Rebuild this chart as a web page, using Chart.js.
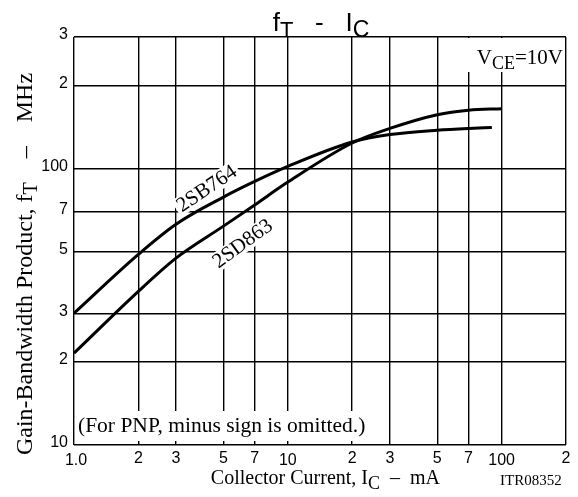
<!DOCTYPE html>
<html>
<head>
<meta charset="utf-8">
<script src="https://cdn.jsdelivr.net/npm/chart.js@4.4.0/dist/chart.umd.min.js"></script>
<style>
  html, body { margin: 0; padding: 0; background: #fff; }
  #wrap { width: 578px; height: 497px; }
</style>
</head>
<body>
<div id="wrap"><canvas id="c" width="578" height="497"></canvas></div>
<script>
// collector current (mA) and gain-bandwidth product (MHz)
const currentB = [1, 2, 3, 5, 7, 10, 20, 30, 50, 70, 90];
const ftB = [30, 49, 63, 79, 90, 102, 125, 133, 138, 140, 141];        // 2SB764
const currentD = [1, 2, 3, 5, 7, 10, 20, 30, 50, 70, 100];
const ftD = [21.5, 36, 47.5, 62, 74, 89.5, 124, 140, 157, 163, 165];   // 2SD863

const xTickValues = [1, 2, 3, 5, 7, 10, 20, 30, 50, 70, 100, 200];
const xTickLabels = ['1.0', '2', '3', '5', '7', '10', '2', '3', '5', '7', '100', '2'];
const yTickValues = [10, 20, 30, 50, 70, 100, 200, 300];
const yTickLabels = ['10', '2', '3', '5', '7', '100', '2', '3'];

const SANS = '"Liberation Sans", Arial, sans-serif';
const SERIF = '"Liberation Serif", "Times New Roman", serif';

function richWidth(ctx, parts) {
    let w = 0;
    parts.forEach(p => { ctx.font = p.font; w += ctx.measureText(p.text).width; });
    return w;
}

function drawRich(ctx, parts, x, y, align) {
    const w = richWidth(ctx, parts);
    let cx = align === 'center' ? x - w / 2 : align === 'right' ? x - w : x;
    ctx.textAlign = 'left';
    ctx.textBaseline = 'alphabetic';
    parts.forEach(p => {
        ctx.font = p.font;
        ctx.fillText(p.text, cx, y + (p.dy || 0));
        cx += ctx.measureText(p.text).width;
    });
    return w;
}

function whiteBox(ctx, x, y, w, h) {
    ctx.fillStyle = '#fff';
    ctx.fillRect(x, y, w, h);
    ctx.fillStyle = '#000';
}

// rotated label sitting on a curve, with a white patch that breaks the grid
function curveLabel(ctx, text, x, y, angle) {
    ctx.save();
    ctx.translate(x, y);
    ctx.rotate(angle * Math.PI / 180);
    ctx.font = '21px ' + SERIF;
    const w = ctx.measureText(text).width;
    whiteBox(ctx, -w / 2 - 3, -10, w + 6, 19);
    ctx.textAlign = 'center';
    ctx.textBaseline = 'middle';
    ctx.fillText(text, 0, 0);
    ctx.restore();
}

const textPlugin = {
    id: 'sheetText',
    beforeDatasetsDraw(chart) {
        const ctx = chart.ctx;
        const xs = chart.scales.x, ys = chart.scales.y;
        ctx.save();
        ctx.fillStyle = '#000';

        // tick labels
        ctx.font = '16px ' + SANS;
        ctx.textBaseline = 'middle';
        ctx.textAlign = 'center';
        xTickValues.forEach((v, i) => {
            const decade = [1, 10, 100].includes(v);
            const px = xs.getPixelForValue(v) + (i === 0 ? 2 : 0);
            ctx.fillText(xTickLabels[i], px, decade ? 461 : 459);
        });
        ctx.textAlign = 'right';
        yTickValues.forEach((v, i) => {
            ctx.fillText(yTickLabels[i], 68, ys.getPixelForValue(v) - 2);
        });

        // title
        drawRich(ctx, [
            { text: 'f', font: '26px ' + SANS },
            { text: 'T', font: '22px ' + SANS, dy: 6 },
            { text: '   -   ', font: '26px ' + SANS },
            { text: 'I', font: '26px ' + SANS },
            { text: 'C', font: '23px ' + SANS, dy: 6 }
        ], 321, 31, 'center');

        // x axis title and drawing number
        drawRich(ctx, [
            { text: 'Collector Current, I', font: '20px ' + SERIF },
            { text: 'C', font: '18px ' + SERIF, dy: 5 },
            { text: '  \u2013  mA', font: '20px ' + SERIF }
        ], 440, 484, 'right');
        ctx.font = '15px ' + SERIF;
        ctx.textAlign = 'left';
        ctx.fillText('ITR08352', 500, 485);

        // y axis title
        ctx.save();
        ctx.translate(32, 264);
        ctx.rotate(-Math.PI / 2);
        drawRich(ctx, [
            { text: 'Gain-Bandwidth Product, f', font: '24px ' + SERIF },
            { text: 'T', font: '20px ' + SERIF, dy: 5 },
            { text: '    \u2013    MHz', font: '24px ' + SERIF }
        ], 0, 0, 'center');
        ctx.restore();

        // condition box, top right
        whiteBox(ctx, 466, 38, 99, 34);
        drawRich(ctx, [
            { text: 'V', font: '21px ' + SERIF },
            { text: 'CE', font: '18px ' + SERIF, dy: 5 },
            { text: '=10V', font: '21px ' + SERIF }
        ], 563, 64, 'right');

        // note, bottom left
        ctx.font = '21.5px ' + SERIF;
        const note = '(For PNP, minus sign is omitted.)';
        const nw = ctx.measureText(note).width;
        whiteBox(ctx, 75.5, 411, nw + 7, 30);
        ctx.textAlign = 'left';
        ctx.fillText(note, 78, 432);

        curveLabel(ctx, '2SB764', 207, 189, -34);
        curveLabel(ctx, '2SD863', 243, 244, -36);
        ctx.restore();
    }
};

function logAxis(min, max, values) {
    return {
        type: 'logarithmic',
        min: min,
        max: max,
        afterBuildTicks: s => { s.ticks = values.map(v => ({ value: v })); },
        ticks: { display: false },
        grid: { color: '#000', lineWidth: 1.4, drawTicks: false },
        border: { display: false }
    };
}

new Chart(document.getElementById('c'), {
    type: 'line',
    data: {
        datasets: [{
            label: '2SB764',
            data: currentB.map((x, i) => ({ x: x, y: ftB[i] })),
            borderColor: '#000',
            borderWidth: 3,
            pointRadius: 0,
            cubicInterpolationMode: 'monotone',
            fill: false
        }, {
            label: '2SD863',
            data: currentD.map((x, i) => ({ x: x, y: ftD[i] })),
            borderColor: '#000',
            borderWidth: 3,
            pointRadius: 0,
            cubicInterpolationMode: 'monotone',
            fill: false
        }]
    },
    options: {
        responsive: false,
        animation: false,
        layout: { padding: { left: 74, right: 12, top: 37, bottom: 52 } },
        plugins: { legend: { display: false }, tooltip: { enabled: false } },
        scales: {
            x: logAxis(1, 200, xTickValues),
            y: logAxis(10, 300, yTickValues)
        }
    },
    plugins: [textPlugin]
});
</script>
</body>
</html>
